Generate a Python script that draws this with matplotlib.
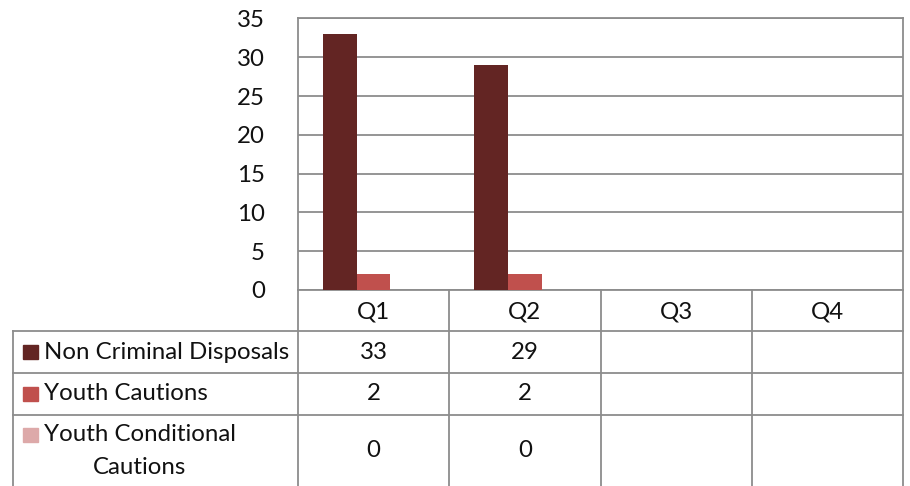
import numpy as np
import matplotlib
matplotlib.use("Agg")
import matplotlib.pyplot as plt
import matplotlib.transforms as mtransforms

plt.rcParams['font.family'] = ['Lato', 'DejaVu Sans']

quarters = ["Q1", "Q2", "Q3", "Q4"]
series = ["Non Criminal Disposals", "Youth Cautions", "Youth Conditional\nCautions"]
non_criminal = [33, 29, None, None]
youth_cautions = [2, 2, None, None]
youth_conditional = [0, 0, None, None]
colors = ["#632523", "#C0504D", "#DDA9A9"]

W, H = 910, 486
FS = 17.3
TXT = "#111111"
fig = plt.figure(figsize=(W / 100, H / 100), dpi=100)

# plot area in pixels
left, right, top, bottom = 298, 903, 18.5, 290
ax = fig.add_axes([left / W, 1 - bottom / H, (right - left) / W, (bottom - top) / H])

grid_c = "#8C8C8C"
x = np.arange(len(quarters))
w = 1 / 4.5
all_vals = [non_criminal, youth_cautions, youth_conditional]
for i, (vals, c) in enumerate(zip(all_vals, colors)):
    v = [np.nan if a is None else a for a in vals]
    ax.bar(x + (i - 1) * w, v, width=w, color=c, zorder=3)

ax.set_xlim(-0.5, len(quarters) - 0.5)
ax.set_ylim(0, 35)
ax.set_yticks(range(0, 36, 5))
ax.set_xticks([])
ax.yaxis.grid(True, color=grid_c, linewidth=1.3)
for s in ax.spines.values():
    s.set_color(grid_c)
    s.set_linewidth(1.3)
ax.tick_params(axis="y", length=0, pad=24, labelsize=FS, labelcolor=TXT)

# data table below, x in category coords, y in figure pixels
trans = mtransforms.blended_transform_factory(ax.transData, fig.transFigure)
def fy(py):
    return 1 - py / H

row_edges = [290, 331, 373, 415, 486]
lw = 1.3
# vertical column lines
for k in range(len(quarters) + 1):
    fig.add_artist(plt.Line2D([k - 0.5, k - 0.5], [fy(290), fy(486)], transform=trans,
                              color=grid_c, lw=lw))
# horizontal lines
for py in row_edges[1:4]:
    fig.add_artist(plt.Line2D([13 / W, right / W], [fy(py), fy(py)],
                              transform=fig.transFigure, color=grid_c, lw=lw))
fig.add_artist(plt.Line2D([13 / W, 13 / W], [fy(331), fy(486)],
                          transform=fig.transFigure, color=grid_c, lw=lw))

# header
for k, q in enumerate(quarters):
    fig.text(k, fy(312), q, transform=trans, ha="center", va="center",
             fontsize=FS, color=TXT)

# rows
for r, (name, vals, c) in enumerate(zip(series, all_vals, colors)):
    yc = (row_edges[r + 1] + row_edges[r + 2]) / 2
    if r == 2:
        sq_y = 435
        fig.text(140 / W, fy(451), name, ha="center", va="center", fontsize=FS,
                 color=TXT, linespacing=1.75)
    else:
        sq_y = yc
        fig.text(44 / W, fy(yc), name, ha="left", va="center", fontsize=FS,
                 color=TXT)
    fig.add_artist(plt.Rectangle((23 / W, fy(sq_y + 7)), 15 / W, 14 / H,
                                 transform=fig.transFigure, color=c))
    for k, v in enumerate(vals):
        if v is not None:
            fig.text(k, fy(yc), str(v), transform=trans, ha="center", va="center",
                     fontsize=FS, color=TXT)

fig.savefig("out.png", dpi=100)
